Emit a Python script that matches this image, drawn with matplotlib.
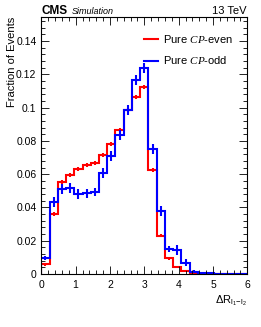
import numpy as np
import matplotlib
matplotlib.use("Agg")
import matplotlib.pyplot as plt
from matplotlib.ticker import MultipleLocator, FuncFormatter
from matplotlib.lines import Line2D

plt.rcParams['font.family'] = ['Liberation Sans', 'DejaVu Sans']
plt.rcParams['mathtext.fontset'] = 'custom'
plt.rcParams['mathtext.rm'] = 'Liberation Sans'
plt.rcParams['mathtext.it'] = 'Liberation Serif:italic'
plt.rcParams['mathtext.bf'] = 'Liberation Sans:bold'

# ---- data ----
bin_width = 0.24
n_bins = 25
cp_even = [0.0058, 0.0358, 0.0554, 0.0594, 0.0630, 0.0654, 0.0668, 0.0718,
           0.0784, 0.0864, 0.0984, 0.1064, 0.1124, 0.0626, 0.0230, 0.0094,
           0.0044, 0.0020, 0.0008, 0.0002, 0.0, 0.0, 0.0, 0.0, 0.0]
cp_even_err = [0.0008, 0.0012, 0.0012, 0.0012, 0.0012, 0.0012, 0.0012, 0.0012,
               0.0012, 0.0012, 0.0012, 0.0012, 0.0012, 0.0012, 0.0010, 0.0008,
               0.0006, 0.0004, 0.0002, 0.0001, 0.0, 0.0, 0.0, 0.0, 0.0]
cp_odd = [0.0094, 0.0434, 0.0510, 0.0518, 0.0478, 0.0484, 0.0494, 0.0608,
          0.0708, 0.0834, 0.0984, 0.1168, 0.1240, 0.0754, 0.0380, 0.0150,
          0.0144, 0.0068, 0.0014, 0.0004, 0.0004, 0.0, 0.0, 0.0, 0.0]
cp_odd_err = [0.0012, 0.0030, 0.0030, 0.0030, 0.0030, 0.0025, 0.0025, 0.0030,
              0.0030, 0.0030, 0.0030, 0.0030, 0.0030, 0.0030, 0.0030, 0.0020,
              0.0030, 0.0020, 0.0010, 0.0006, 0.0006, 0.0, 0.0, 0.0, 0.0]
labels = [r"Pure $\mathit{CP}$-even", r"Pure $\mathit{CP}$-odd"]
colors = ["#ff0000", "#0000ff"]

edges = np.arange(n_bins + 1) * bin_width
centers = 0.5 * (edges[:-1] + edges[1:])

fig = plt.figure(figsize=(2.61, 3.27), dpi=100)
ax = fig.add_axes([41.3/261, 1 - 274/327, (247.3-41.3)/261, (274-17)/327])

for vals, errs, col in [(cp_even, cp_even_err, colors[0]), (cp_odd, cp_odd_err, colors[1])]:
    ax.stairs(vals, edges, baseline=0, color=col, linewidth=1.5)
    ax.errorbar(centers, vals, yerr=errs, fmt='none', ecolor=col, elinewidth=1.5, capsize=0)

ax.set_xlim(0, 6)
ax.set_ylim(0, 0.1545)

ax.xaxis.set_major_locator(MultipleLocator(1))
ax.xaxis.set_minor_locator(MultipleLocator(0.2))
ax.yaxis.set_major_locator(MultipleLocator(0.02))
ax.yaxis.set_minor_locator(MultipleLocator(0.004))
ax.yaxis.set_major_formatter(FuncFormatter(lambda v, p: "%g" % round(v, 4)))
ax.tick_params(which='both', direction='in', top=True, right=True, labelsize=7.5, width=0.6)
ax.tick_params(which='major', length=6)
ax.tick_params(which='minor', length=3)
ax.tick_params(axis='x', pad=4)
for s in ax.spines.values():
    s.set_linewidth(0.8)

fig.text(12/261, 1 - 17/327, "Fraction of Events", rotation=90, ha='center', va='top', fontsize=8)
fig.text(247/261, 1 - 303/327, r"$\Delta\mathrm{R}_{\mathrm{l_{1}\!-\!l_{2}}}$", ha='right', va='baseline', fontsize=8)
fig.text(42/261, 1 - 14/327, "CMS", fontweight='bold', ha='left', va='baseline', fontsize=8.5)
fig.text(72/261, 1 - 14/327, "Simulation", style='italic', ha='left', va='baseline', fontsize=6.5)
fig.text(247/261, 1 - 14/327, "13 TeV", ha='right', va='baseline', fontsize=8)

handles = [Line2D([], [], color=c, linewidth=1.5) for c in colors]
ax.legend(handles, labels, loc='upper left', bbox_to_anchor=(144/261, 1 - 33/327),
          bbox_transform=fig.transFigure, frameon=False, fontsize=8,
          handlelength=1.3, handletextpad=0.4, labelspacing=0.85, borderpad=0, borderaxespad=0)

fig.savefig("out.png", dpi=100)
